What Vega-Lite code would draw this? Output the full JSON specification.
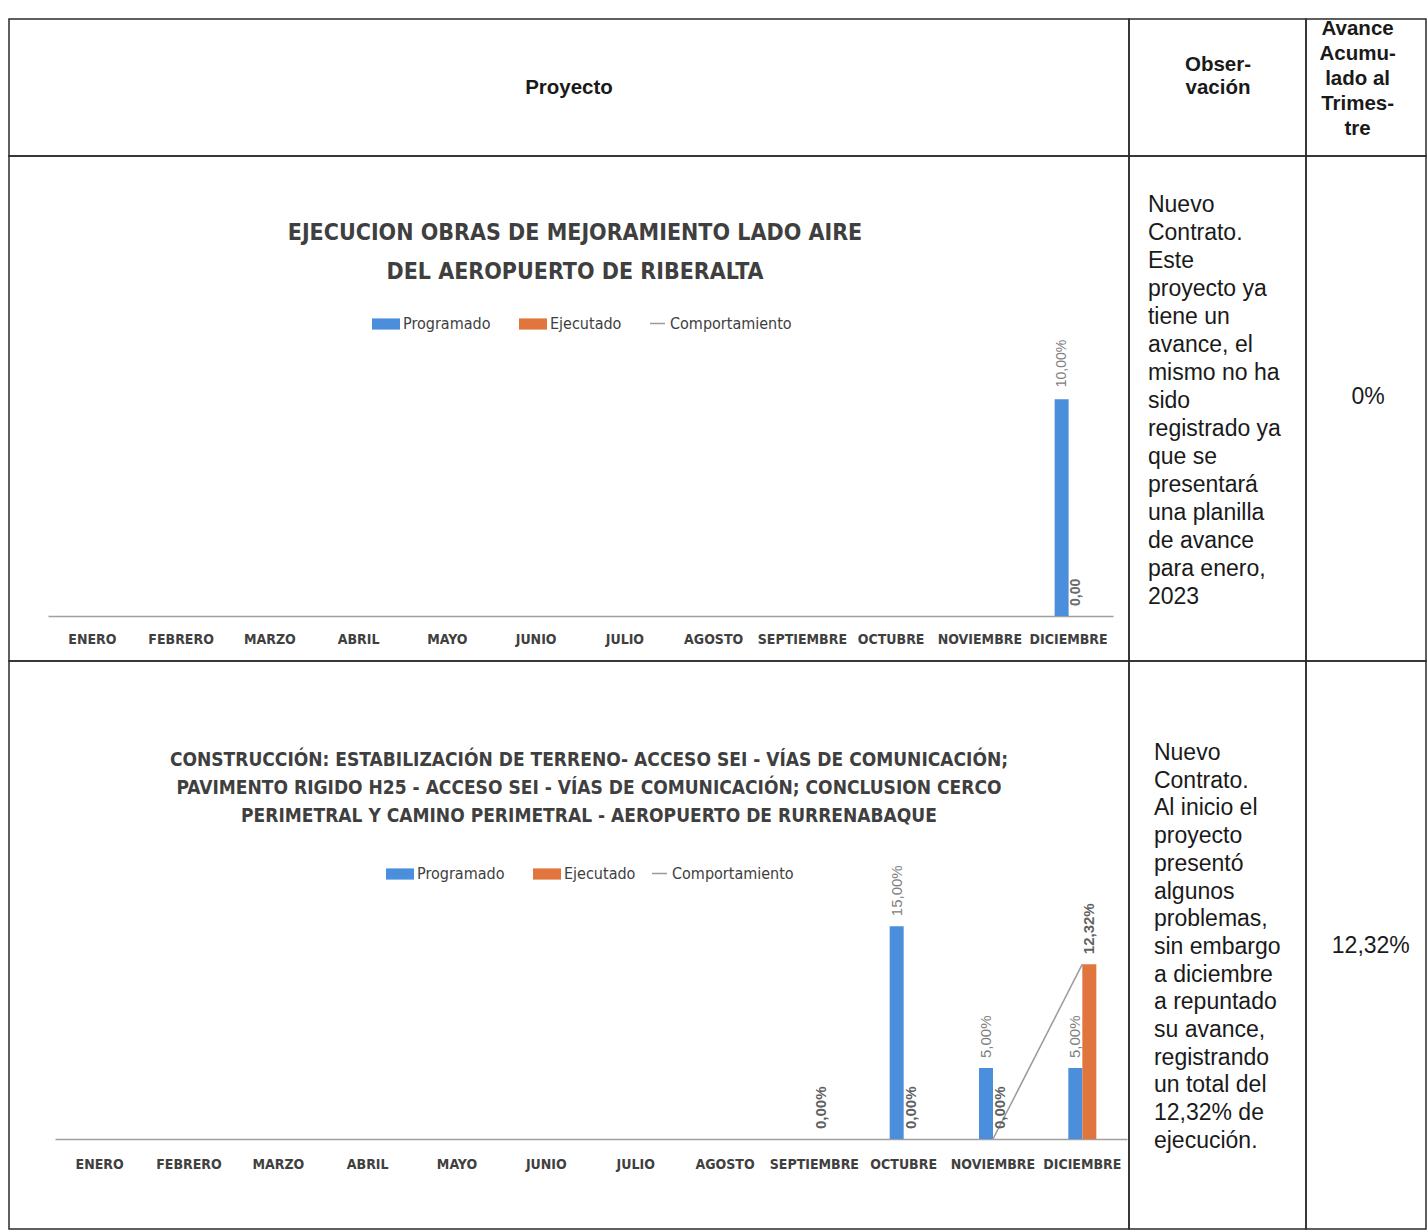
{
  "$schema": "https://vega.github.io/schema/vega-lite/v6.json",
  "background": "white",
  "padding": {"left": 8, "top": 18, "right": 0, "bottom": 0},
  "config": {
    "view": {"stroke": "#2b2b2b", "strokeWidth": 1.5},
    "font": "Liberation Sans"
  },
  "columns": 3,
  "spacing": 0,
  "bounds": "flush",
  "resolve": {"scale": {"color": "independent", "stroke": "independent"}, "legend": {"color": "independent", "stroke": "independent"}},
  "concat": [
    {
      "width": 1120, "height": 137,
      "data": {"values": [{"t": "Proyecto"}]},
      "mark": {"type": "text", "fontWeight": "bold", "fontSize": 20.5, "color": "#1a1a1a"},
      "encoding": {
        "x": {"datum": 0.5, "type": "quantitative", "scale": {"domain": [0, 1]}, "axis": null},
        "y": {"datum": 0.5, "type": "quantitative", "scale": {"domain": [0, 1]}, "axis": null},
        "text": {"field": "t", "type": "nominal"}
      }
    },
    {
      "width": 177, "height": 137,
      "data": {"values": [{"t": ["Obser-", "vación"]}]},
      "mark": {"type": "text", "fontWeight": "bold", "fontSize": 20.5, "lineHeight": 23, "color": "#1a1a1a"},
      "encoding": {
        "x": {"datum": 0.503, "type": "quantitative", "scale": {"domain": [0, 1]}, "axis": null},
        "y": {"datum": 0.664, "type": "quantitative", "scale": {"domain": [0, 1]}, "axis": null},
        "text": {"field": "t", "type": "nominal"}
      }
    },
    {
      "width": 120, "height": 137,
      "data": {"values": [{"t": ["Avance", "Acumu-", "lado al", "Trimes-", "tre"]}]},
      "mark": {"type": "text", "fontWeight": "bold", "fontSize": 20.5, "lineHeight": 25, "color": "#1a1a1a"},
      "encoding": {
        "x": {"datum": 0.43, "type": "quantitative", "scale": {"domain": [0, 1]}, "axis": null},
        "y": {"datum": 0.927, "type": "quantitative", "scale": {"domain": [0, 1]}, "axis": null},
        "text": {"field": "t", "type": "nominal"}
      }
    },
    {
      "width": 1120, "height": 505,
      "title": {
        "text": ["EJECUCION OBRAS DE MEJORAMIENTO LADO AIRE", "DEL AEROPUERTO DE RIBERALTA"],
        "anchor": "middle", "frame": "group", "offset": -128, "dx": 6,
        "fontSize": 23, "lineHeight": 39, "font": "Liberation Sans Narrow, DejaVu Sans Condensed, sans-serif",
        "fontWeight": "bold", "color": "#3f3f3f"
      },
      "data": {"values": [
        {"mes": "DICIEMBRE", "serie": "Programado", "valor": 0.10, "etiqueta": "10,00%"},
        {"mes": "DICIEMBRE", "serie": "Ejecutado", "valor": 0, "etiqueta": "0,00"},
        {"mes": "DICIEMBRE", "serie": "Comportamiento", "valor": 0, "etiqueta": ""}
      ]},
      "encoding": {
        "x": {
          "field": "mes", "type": "nominal",
          "scale": {"type": "band", "domain": ["ENERO","FEBRERO","MARZO","ABRIL","MAYO","JUNIO","JULIO","AGOSTO","SEPTIEMBRE","OCTUBRE","NOVIEMBRE","DICIEMBRE"], "range": [39, 1104], "paddingInner": 0, "paddingOuter": 0},
          "axis": {"offset": -45, "ticks": false, "labelAngle": 0, "labelFont": "Liberation Sans Narrow, DejaVu Sans Condensed, sans-serif", "labelFontSize": 14, "labelFontWeight": "bold", "labelColor": "#404040", "labelPadding": 16, "domainColor": "#a0a0a0", "domainWidth": 1.5, "grid": false, "labelOverlap": false},
          "title": null
        },
        "y": {"field": "valor", "type": "quantitative", "scale": {"domain": [0, 0.12], "range": [460, 200]}, "axis": null}
      },
      "layer": [
        {
          "data": {"values": [{"mes": "ENERO"},{"mes": "FEBRERO"},{"mes": "MARZO"},{"mes": "ABRIL"},{"mes": "MAYO"},{"mes": "JUNIO"},{"mes": "JULIO"},{"mes": "AGOSTO"},{"mes": "SEPTIEMBRE"},{"mes": "OCTUBRE"},{"mes": "NOVIEMBRE"},{"mes": "DICIEMBRE"}]},
          "mark": {"type": "rule", "color": "#e4e4e4", "strokeWidth": 1},
          "encoding": {
            "x": {"field": "mes", "type": "nominal", "bandPosition": 0},
            "y": {"datum": 0, "type": "quantitative"},
            "y2": {"datum": 0.12}
          }
        },
        {
          "transform": [{"filter": "datum.serie === 'Programado'"}],
          "mark": {"type": "bar", "width": 14, "xOffset": -7},
          "encoding": {
            "color": {
              "field": "serie", "type": "nominal",
              "scale": {"domain": ["Programado", "Ejecutado"], "range": ["#4b8fdc", "#e0763d"]},
              "legend": {
                "title": null, "orient": "none", "legendX": 362, "legendY": 153, "direction": "horizontal", "padding": 0,
                "labelFont": "Liberation Sans Narrow, DejaVu Sans Condensed, sans-serif", "labelFontSize": 16, "labelColor": "#404040",
                "symbolSize": 784, "symbolType": "M-1,-0.4H1V0.4H-1Z", "labelOffset": 2, "columnPadding": 27
              }
            }
          }
        },
        {
          "transform": [{"filter": "datum.serie === 'Ejecutado'"}],
          "mark": {"type": "bar", "width": 14, "xOffset": 7},
          "encoding": {
            "color": {"field": "serie", "type": "nominal"}
          }
        },
        {
          "transform": [{"filter": "datum.serie === 'Comportamiento'"}],
          "mark": {"type": "line", "strokeWidth": 1.5},
          "encoding": {
            "stroke": {
              "field": "serie", "type": "nominal",
              "scale": {"domain": ["Comportamiento"], "range": ["#9a9a9a"]},
              "legend": {
                "title": null, "orient": "none", "legendX": 640, "legendY": 159, "padding": 0,
                "labelFont": "Liberation Sans Narrow, DejaVu Sans Condensed, sans-serif", "labelFontSize": 16, "labelColor": "#404040",
                "symbolType": "stroke", "symbolSize": 225, "symbolStrokeWidth": 1.5, "labelOffset": 4
              }
            }
          }
        },
        {
          "transform": [{"filter": "datum.serie === 'Programado'"}],
          "mark": {"type": "text", "angle": 270, "align": "left", "baseline": "middle", "dx": 12, "xOffset": -7, "fontSize": 14, "color": "#808080"},
          "encoding": {
            "text": {"field": "etiqueta", "type": "nominal"}
          }
        },
        {
          "transform": [{"filter": "datum.serie === 'Ejecutado'"}],
          "mark": {"type": "text", "angle": 270, "align": "left", "baseline": "middle", "dx": 10, "xOffset": 7, "fontSize": 14, "fontWeight": "bold", "color": "#6a6a6a"},
          "encoding": {
            "text": {"field": "etiqueta", "type": "nominal"}
          }
        }
      ]
    },
    {
      "width": 177, "height": 505,
      "data": {"values": [{"t": ["Nuevo", "Contrato.", "Este", "proyecto ya", "tiene un", "avance, el", "mismo no ha", "sido", "registrado ya", "que se", "presentará", "una planilla", "de avance", "para enero,", "2023"]}]},
      "mark": {"type": "text", "align": "left", "fontSize": 23, "lineHeight": 28, "color": "#1a1a1a"},
      "encoding": {
        "x": {"datum": 0.107, "type": "quantitative", "scale": {"domain": [0, 1]}, "axis": null},
        "y": {"datum": 0.903, "type": "quantitative", "scale": {"domain": [0, 1]}, "axis": null},
        "text": {"field": "t", "type": "nominal"}
      }
    },
    {
      "width": 120, "height": 505,
      "data": {"values": [{"t": "0%"}]},
      "mark": {"type": "text", "fontSize": 23, "color": "#1a1a1a"},
      "encoding": {
        "x": {"datum": 0.517, "type": "quantitative", "scale": {"domain": [0, 1]}, "axis": null},
        "y": {"datum": 0.523, "type": "quantitative", "scale": {"domain": [0, 1]}, "axis": null},
        "text": {"field": "t", "type": "nominal"}
      }
    },
    {
      "width": 1120, "height": 568,
      "title": {
        "text": ["CONSTRUCCIÓN: ESTABILIZACIÓN DE TERRENO- ACCESO SEI  - VÍAS  DE COMUNICACIÓN;", "PAVIMENTO RIGIDO H25 - ACCESO SEI  - VÍAS  DE COMUNICACIÓN; CONCLUSION CERCO", "PERIMETRAL Y CAMINO PERIMETRAL - AEROPUERTO DE RURRENABAQUE"],
        "anchor": "middle", "frame": "group", "offset": -165, "dx": 20,
        "fontSize": 19, "lineHeight": 28, "font": "Liberation Sans Narrow, DejaVu Sans Condensed, sans-serif",
        "fontWeight": "bold", "color": "#3f3f3f"
      },
      "data": {"values": [
        {"mes": "OCTUBRE", "serie": "Programado", "valor": 0.15, "etiqueta": "15,00%"},
        {"mes": "NOVIEMBRE", "serie": "Programado", "valor": 0.05, "etiqueta": "5,00%"},
        {"mes": "DICIEMBRE", "serie": "Programado", "valor": 0.05, "etiqueta": "5,00%"},
        {"mes": "SEPTIEMBRE", "serie": "Ejecutado", "valor": 0, "etiqueta": "0,00%"},
        {"mes": "OCTUBRE", "serie": "Ejecutado", "valor": 0, "etiqueta": "0,00%"},
        {"mes": "NOVIEMBRE", "serie": "Ejecutado", "valor": 0, "etiqueta": "0,00%"},
        {"mes": "DICIEMBRE", "serie": "Ejecutado", "valor": 0.1232, "etiqueta": "12,32%"},
        {"mes": "NOVIEMBRE", "serie": "Comportamiento", "valor": 0, "etiqueta": ""},
        {"mes": "DICIEMBRE", "serie": "Comportamiento", "valor": 0.1232, "etiqueta": ""}
      ]},
      "encoding": {
        "x": {
          "field": "mes", "type": "nominal",
          "scale": {"type": "band", "domain": ["ENERO","FEBRERO","MARZO","ABRIL","MAYO","JUNIO","JULIO","AGOSTO","SEPTIEMBRE","OCTUBRE","NOVIEMBRE","DICIEMBRE"], "range": [46, 1118], "paddingInner": 0, "paddingOuter": 0},
          "axis": {"offset": -90, "ticks": false, "labelAngle": 0, "labelFont": "Liberation Sans Narrow, DejaVu Sans Condensed, sans-serif", "labelFontSize": 14, "labelFontWeight": "bold", "labelColor": "#404040", "labelPadding": 18, "domainColor": "#a0a0a0", "domainWidth": 1.5, "grid": false, "labelOverlap": false},
          "title": null
        },
        "y": {"field": "valor", "type": "quantitative", "scale": {"domain": [0, 0.16], "range": [478, 251]}, "axis": null}
      },
      "layer": [
        {
          "data": {"values": [{"mes": "ENERO"},{"mes": "FEBRERO"},{"mes": "MARZO"},{"mes": "ABRIL"},{"mes": "MAYO"},{"mes": "JUNIO"},{"mes": "JULIO"},{"mes": "AGOSTO"},{"mes": "SEPTIEMBRE"},{"mes": "OCTUBRE"},{"mes": "NOVIEMBRE"},{"mes": "DICIEMBRE"}]},
          "mark": {"type": "rule", "color": "#e4e4e4", "strokeWidth": 1},
          "encoding": {
            "x": {"field": "mes", "type": "nominal", "bandPosition": 0},
            "y": {"datum": 0, "type": "quantitative"},
            "y2": {"datum": 0.16}
          }
        },
        {
          "transform": [{"filter": "datum.serie === 'Programado'"}],
          "mark": {"type": "bar", "width": 14, "xOffset": -7},
          "encoding": {
            "color": {
              "field": "serie", "type": "nominal",
              "scale": {"domain": ["Programado", "Ejecutado"], "range": ["#4b8fdc", "#e0763d"]},
              "legend": {
                "title": null, "orient": "none", "legendX": 376, "legendY": 198, "direction": "horizontal", "padding": 0,
                "labelFont": "Liberation Sans Narrow, DejaVu Sans Condensed, sans-serif", "labelFontSize": 16, "labelColor": "#404040",
                "symbolSize": 784, "symbolType": "M-1,-0.4H1V0.4H-1Z", "labelOffset": 2, "columnPadding": 27
              }
            }
          }
        },
        {
          "transform": [{"filter": "datum.serie === 'Ejecutado'"}],
          "mark": {"type": "bar", "width": 14, "xOffset": 7},
          "encoding": {
            "color": {"field": "serie", "type": "nominal"}
          }
        },
        {
          "transform": [{"filter": "datum.serie === 'Comportamiento'"}],
          "mark": {"type": "line", "strokeWidth": 1.5},
          "encoding": {
            "stroke": {
              "field": "serie", "type": "nominal",
              "scale": {"domain": ["Comportamiento"], "range": ["#9a9a9a"]},
              "legend": {
                "title": null, "orient": "none", "legendX": 642, "legendY": 204, "padding": 0,
                "labelFont": "Liberation Sans Narrow, DejaVu Sans Condensed, sans-serif", "labelFontSize": 16, "labelColor": "#404040",
                "symbolType": "stroke", "symbolSize": 225, "symbolStrokeWidth": 1.5, "labelOffset": 4
              }
            }
          }
        },
        {
          "transform": [{"filter": "datum.serie === 'Programado'"}],
          "mark": {"type": "text", "angle": 270, "align": "left", "baseline": "middle", "dx": 10, "xOffset": -7, "fontSize": 15, "color": "#808080"},
          "encoding": {
            "text": {"field": "etiqueta", "type": "nominal"}
          }
        },
        {
          "transform": [{"filter": "datum.serie === 'Ejecutado'"}],
          "mark": {"type": "text", "angle": 270, "align": "left", "baseline": "middle", "dx": 10, "xOffset": 7, "fontSize": 15, "fontWeight": "bold", "color": "#5f5f5f"},
          "encoding": {
            "text": {"field": "etiqueta", "type": "nominal"}
          }
        }
      ]
    },
    {
      "width": 177, "height": 568,
      "data": {"values": [{"t": ["Nuevo", "Contrato.", "Al inicio el", "proyecto", "presentó", "algunos", "problemas,", "sin embargo", "a diciembre", "a repuntado", "su avance,", "registrando", "un total del", "12,32% de", "ejecución."]}]},
      "mark": {"type": "text", "align": "left", "fontSize": 23, "lineHeight": 27.7, "color": "#1a1a1a"},
      "encoding": {
        "x": {"datum": 0.141, "type": "quantitative", "scale": {"domain": [0, 1]}, "axis": null},
        "y": {"datum": 0.838, "type": "quantitative", "scale": {"domain": [0, 1]}, "axis": null},
        "text": {"field": "t", "type": "nominal"}
      }
    },
    {
      "width": 120, "height": 568,
      "data": {"values": [{"t": "12,32%"}]},
      "mark": {"type": "text", "fontSize": 23, "color": "#1a1a1a"},
      "encoding": {
        "x": {"datum": 0.54, "type": "quantitative", "scale": {"domain": [0, 1]}, "axis": null},
        "y": {"datum": 0.498, "type": "quantitative", "scale": {"domain": [0, 1]}, "axis": null},
        "text": {"field": "t", "type": "nominal"}
      }
    }
  ]
}
